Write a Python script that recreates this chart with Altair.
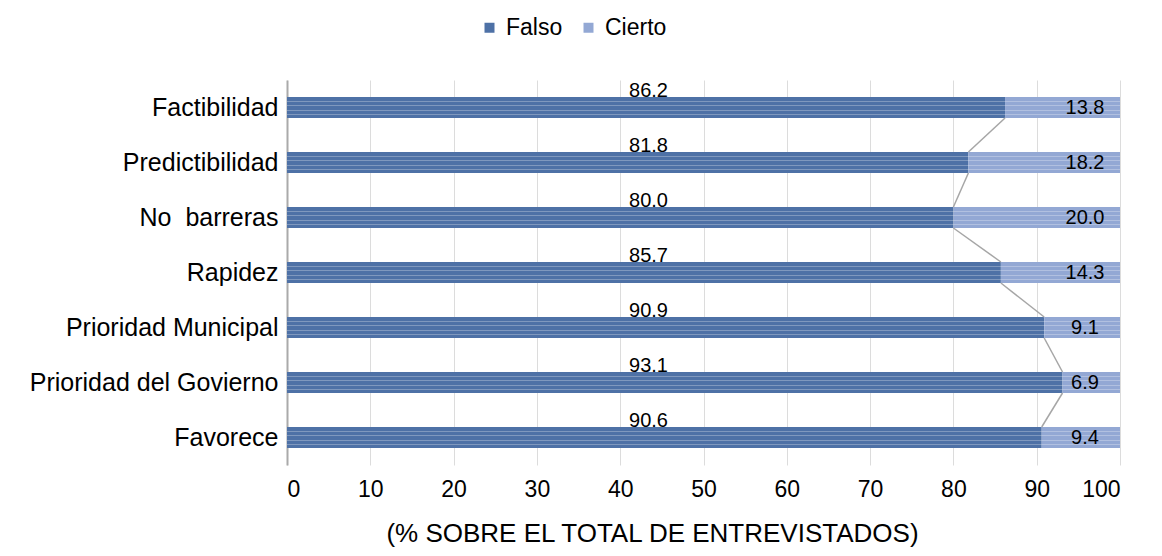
import altair as alt
import pandas as pd

categories = ["Factibilidad", "Predictibilidad", "No\u00a0 barreras", "Rapidez",
              "Prioridad Municipal", "Prioridad del Govierno", "Favorece"]
falso = [86.2, 81.8, 80.0, 85.7, 90.9, 93.1, 90.6]
cierto = [13.8, 18.2, 20.0, 14.3, 9.1, 6.9, 9.4]
series = ["Falso", "Cierto"]
colors = ["#4e71a6", "#93a8d4"]
x_ticks = [0, 10, 20, 30, 40, 50, 60, 70, 80, 90, 100]

rows = []
for c, f, t in zip(categories, falso, cierto):
    rows.append({"cat": c, "serie": "Falso", "start": 0, "end": f, "val": f})
    rows.append({"cat": c, "serie": "Cierto", "start": f, "end": f + t, "val": t})
df = pd.DataFrame(rows)

lines = pd.DataFrame({
    "cat": categories[:-1], "cat2": categories[1:],
    "x": falso[:-1], "x2": falso[1:],
})

FONT = "Liberation Sans"
yscale = alt.Scale(domain=categories, paddingInner=0.62, paddingOuter=0.31)
xscale = alt.Scale(domain=[0, 100], nice=False)

base = alt.Chart(df)

bars = base.mark_bar().encode(
    y=alt.Y("cat:N", scale=yscale, sort=categories,
            axis=alt.Axis(title=None, ticks=False, labelPadding=9, labelFontSize=25,
                          labelLimit=400, labelColor="#000", domainColor="#aaaaaa",
                          domainWidth=2, labelFont=FONT)),
    x=alt.X("start:Q", scale=xscale,
            axis=alt.Axis(values=x_ticks, title="(% SOBRE EL TOTAL DE ENTREVISTADOS)",
                          ticks=False, domain=False, labelPadding=13, labelFontSize=23,
                          labelColor="#000", titleFontSize=26, titleFontWeight="normal",
                          titleColor="#000", titlePadding=19, gridColor="#dcdcdc",
                          titleX=365, titleAnchor="start", titleAlign="center",
                          labelFont=FONT, titleFont=FONT)),
    x2="end:Q",
    color=alt.Color("serie:N", scale=alt.Scale(domain=series, range=colors),
                    sort=series,
                    legend=alt.Legend(title=None, orient="none", direction="horizontal",
                                      legendX=191, legendY=-64, symbolType="square",
                                      symbolSize=100, labelFontSize=23, labelFont=FONT,
                                      labelColor="#000", columnPadding=14,
                                      labelOffset=5)),
)

stripes = []
for off in [-6, -2, 3, 7]:
    stripes.append(base.mark_bar(size=1, yOffset=off, color="white", opacity=0.28).encode(
        y=alt.Y("cat:N", scale=yscale, sort=categories),
        x=alt.X("start:Q", scale=xscale),
        x2="end:Q",
    ))

rule = alt.Chart(lines).mark_rule(color="#a6a6a6", strokeWidth=1.5,
                                  yOffset=10.5, y2Offset=-10.5).encode(
    y=alt.Y("cat:N", scale=yscale, sort=categories),
    y2="cat2:N",
    x=alt.X("x:Q", scale=xscale),
    x2="x2:Q",
)

falso_lbl = base.transform_filter(alt.datum.serie == "Falso").transform_calculate(
    pos="43.4", lab="format(datum.val, '.1f')"
).mark_text(fontSize=20, font=FONT, color="#000", dy=-17).encode(
    y=alt.Y("cat:N", scale=yscale, sort=categories),
    x=alt.X("pos:Q", scale=xscale),
    text="lab:N",
)

cierto_lbl = base.transform_filter(alt.datum.serie == "Cierto").transform_calculate(
    pos="95.8", lab="format(datum.val, '.1f')"
).mark_text(fontSize=20, font=FONT, color="#000").encode(
    y=alt.Y("cat:N", scale=yscale, sort=categories),
    x=alt.X("pos:Q", scale=xscale),
    text="lab:N",
)

chart = alt.layer(bars, *stripes, rule, falso_lbl, cierto_lbl).properties(
    width=833, height=385,
    autosize=alt.AutoSizeParams(type="none"),
    padding={"left": 279, "top": 72, "right": 30, "bottom": 83},
).configure_view(stroke=None)

chart.save("out.html", embed_options={"renderer": "svg", "actions": False})
